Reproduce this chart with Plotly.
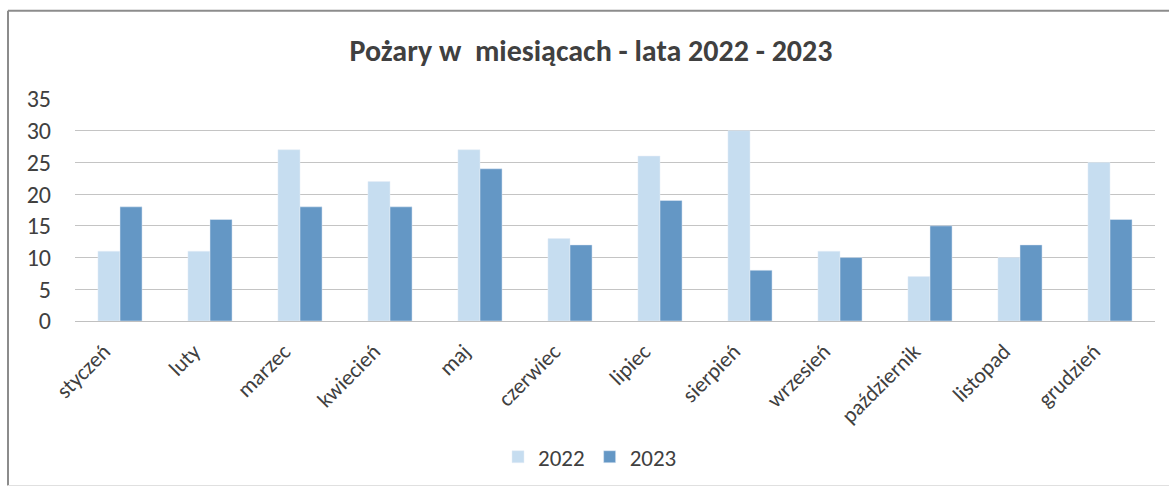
import plotly.graph_objects as go

months = ["styczeń", "luty", "marzec", "kwiecień", "maj", "czerwiec", "lipiec",
          "sierpień", "wrzesień", "październik", "listopad", "grudzień"]
y2022 = [11, 11, 27, 22, 27, 13, 26, 30, 11, 7, 10, 25]
y2023 = [18, 16, 18, 18, 24, 12, 19, 8, 10, 15, 12, 16]

FONT = "Carlito, Liberation Sans Narrow, Open Sans, sans-serif"

fig = go.Figure()
fig.add_trace(go.Bar(x=months, y=y2022, name="2022", marker_color="#c6ddf0"))
fig.add_trace(go.Bar(x=months, y=y2023, name="2023", marker_color="#6497c5"))

L, R, T, B = 75, 14, 99, 168
PW, PH = 1169 - L - R, 491 - T - B

fig.update_layout(
    width=1169, height=491,
    margin=dict(l=L, r=R, t=T, b=B),
    paper_bgcolor="white", plot_bgcolor="white",
    barmode="group", bargap=0.51, bargroupgap=0,
    font=dict(family=FONT, color="#404040"),
    title=dict(text="<b>Pożary w  miesiącach - lata 2022 - 2023</b>",
               x=591 / 1169, xanchor="center", y=1 - 50 / 491, yanchor="middle",
               font=dict(size=30, color="#404040", family=FONT)),
    xaxis=dict(tickangle=-45, tickfont=dict(size=22, color="#404040"),
               showline=True, linecolor="#c0c0c0", ticks="",
               ticklabelshift=-16, ticklabelstandoff=8),
    yaxis=dict(range=[0, 35], dtick=5, tickfont=dict(size=24, color="#404040"),
               showgrid=True, gridcolor="#c4c4c4", gridwidth=1.2, zeroline=False,
               ticklabelstandoff=23),
    legend=dict(orientation="h", x=(590 - L) / PW, xanchor="center",
                y=(T + PH - 460) / PH, yanchor="middle",
                font=dict(size=23, color="#404040"), itemwidth=30),
    showlegend=True,
)

def px_x(v):
    return (v - L) / PW

def px_y(v):
    return (T + PH - v) / PH

# chart frame: left and top borders, faint bottom
fig.add_shape(type="line", xref="paper", yref="paper",
              x0=px_x(8), x1=px_x(8), y0=px_y(489), y1=px_y(10),
              line=dict(color="#8c8c8c", width=2))
fig.add_shape(type="line", xref="paper", yref="paper",
              x0=px_x(8), x1=px_x(1169), y0=px_y(10), y1=px_y(10),
              line=dict(color="#8c8c8c", width=2))
fig.add_shape(type="line", xref="paper", yref="paper",
              x0=px_x(8), x1=px_x(1169), y0=px_y(489), y1=px_y(489),
              line=dict(color="#e0e0e0", width=1))

fig.write_html("out.html", config={"displayModeBar": False},
               post_script="document.body.style.margin='0';")
